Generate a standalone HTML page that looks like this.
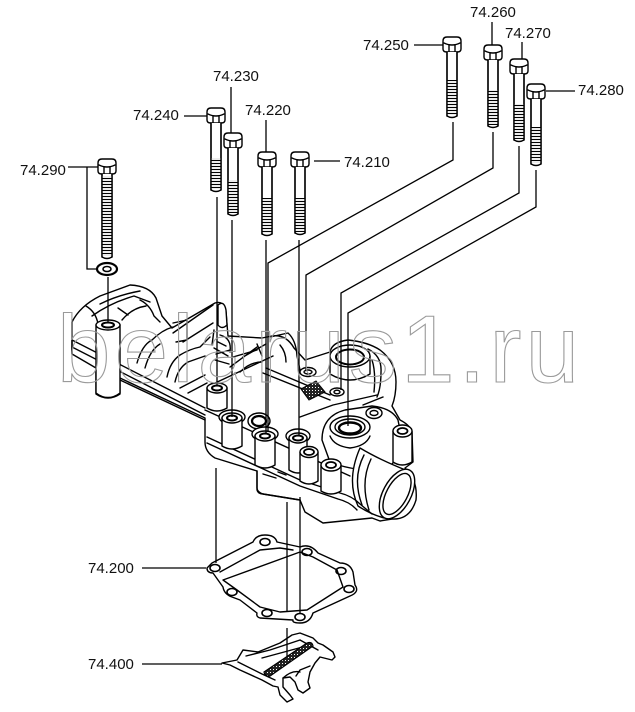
<!DOCTYPE html>
<html><head><meta charset="utf-8"><style>
html,body{margin:0;padding:0;background:#fff;}
svg{display:block;}
.s{fill:none;stroke:#000;stroke-width:1.4;stroke-linejoin:round;stroke-linecap:round;}
.w{fill:#fff;stroke:#000;stroke-width:1.4;stroke-linejoin:round;}
.l{fill:none;stroke:#000;stroke-width:1.3;}
.t{font-family:"Liberation Sans",Arial,sans-serif;font-size:15px;fill:#111;}
</style></head><body>
<svg width="635" height="712" viewBox="0 0 635 712" xmlns="http://www.w3.org/2000/svg">
<defs>
<pattern id="thr" width="10" height="3" patternUnits="userSpaceOnUse">
<rect width="10" height="3" fill="#fff"/><line x1="0" y1="1.5" x2="10" y2="1.5" stroke="#000" stroke-width="1.15"/>
</pattern>
<pattern id="hat" width="3" height="3" patternUnits="userSpaceOnUse">
<rect width="3" height="3" fill="#222"/><rect x="0" y="0" width="1" height="1" fill="#fff"/>
</pattern>
</defs>

<!-- ===== MAIN HOUSING ===== -->
<path class="w" d="M72,322 Q80,306 100,296 L130,285 Q150,286 156,298 L162,316 L172,328 L215,303 Q224,300 226,312 L228,336 L262,338 L272,336 Q286,334 294,348 L305,360 L330,352 Q332,342 348,340 Q368,342 380,350 Q396,362 396,382 Q396,396 392,406 L400,420 Q410,425 412,432 L413,462 L405,468 Q418,480 416,500 Q410,520 392,519 L380,521 L372,518 L323,523 L305,512 L300,500 L263,494 Q257,492 257,488 L257,471 L215,458 Q205,452 205,442 L205,418 L120,378 L120,394 Q108,402 96,394 L96,368 L72,354 Z"/>

<path class="s" d="M72,322 L72,354 M86,306 Q96,312 98,324 M92,316 Q110,303 134,296 L150,302 M100,304 Q118,295 140,291"/>
<path class="s" d="M140,300 Q150,305 154,316 L160,322 M118,308 L128,315 M122,320 Q132,308 146,306"/>
<path class="s" d="M72,340 L205,408 M72,347 L205,415 M120,380 L205,420"/>
<path class="w" d="M96,325 V393 Q108,402 120,393 V325 Z"/>
<ellipse class="w" cx="108" cy="325" rx="12" ry="5"/>
<ellipse class="s" cx="108" cy="325" rx="6" ry="2.5" style="stroke-width:2"/>

<path class="s" d="M173,333 L213,305 M183,342 L213,323 M173,323 L187,320 L187,340 L176,342"/>
<path class="s" d="M137,363 Q142,345 152,340 Q162,330 173,327 M145,368 Q150,350 160,344"/>
<path class="s" d="M167,377 Q170,362 180,355 Q190,349 200,347 L210,337 M175,382 Q178,368 188,362 L205,356"/>
<path class="w" d="M218,305 Q224,300 226,310 L227,325 Q222,330 218,325 Z"/>
<path class="s" d="M214,330 L212,345 M220,335 Q232,338 230,352 M214,348 L228,356 M216,354 L230,350 M215,360 L229,364 M218,342 L226,346"/>
<path class="s" d="M230,367 L257,347 M243,357 L266,344 M257,344 L262,356 M270,337 L288,333 Q296,340 297,356 L300,370"/>
<path class="s" d="M233,357 L257,350 M280,345 Q286,352 286,362 M240,372 Q250,362 262,362"/>
<path class="s" d="M180,388 L205,375 M188,393 L207,383"/>
<path class="s" d="M213,384 L273,356 M263,373 L330,400 M266,368 L330,395"/>
<path class="s" d="M300,417 L333,405 L377,395 M363,405 L383,397"/>
<path d="M301,389 L316,381 L325,392 L309,400 Z" fill="url(#hat)" stroke="#000" stroke-width="1"/>
<path class="w" d="M207,388 V408 Q217,414 227,408 V388 Z"/>
<ellipse class="w" cx="217" cy="388" rx="10" ry="5"/>
<ellipse class="s" cx="217" cy="388" rx="5" ry="2.5" style="stroke-width:2"/>
<ellipse class="w" cx="308" cy="372" rx="8" ry="4.5"/>
<ellipse class="s" cx="308" cy="372" rx="4" ry="2"/>
<path class="w" d="M330,356 V374 Q350,386 370,374 V356 Z"/>
<ellipse class="w" cx="350" cy="356" rx="20" ry="11"/>
<ellipse class="s" cx="350" cy="357" rx="14" ry="7.5" style="stroke-width:2"/>
<path class="s" d="M368,349 Q382,356 381,372 Q381,388 377,397 M372,360 Q376,372 374,392"/>
<ellipse class="w" cx="337" cy="392" rx="7" ry="4"/>
<ellipse class="s" cx="337" cy="392" rx="3" ry="1.8"/>

<path class="s" d="M205,410 L350,476"/>
<path class="w" d="M322,440 Q322,416 345,410 L372,406 Q392,408 398,420 L402,440 Q400,456 392,464 L372,470 Q350,470 330,462 Z"/>
<ellipse class="w" cx="374" cy="413" rx="8" ry="5.5"/>
<ellipse class="s" cx="374" cy="413" rx="4" ry="2.5"/>
<ellipse class="w" cx="350" cy="427" rx="20" ry="11"/>
<ellipse class="s" cx="350" cy="427" rx="15" ry="8"/>
<ellipse class="s" cx="350" cy="428" rx="11" ry="5.5" style="stroke-width:2.4"/>
<path class="s" d="M330,436 Q334,446 350,448 Q366,446 370,436"/>

<path class="w" d="M393,431 V462 Q402,468 412,462 V431 Z"/>
<ellipse class="w" cx="402.5" cy="431" rx="9.5" ry="6"/>
<ellipse class="s" cx="402.5" cy="431" rx="5" ry="3" style="stroke-width:1.8"/>

<path class="w" d="M360,448 Q380,460 408,471 L384,518 Q370,514 358,506 Q346,480 360,448 Z"/>
<path class="s" d="M364,455 Q352,478 362,505 M371,459 Q360,482 369,510"/>
<ellipse class="w" cx="397" cy="494" rx="14" ry="27" transform="rotate(28 397 494)"/>
<ellipse class="s" cx="397" cy="494" rx="10.5" ry="22.5" transform="rotate(28 397 494)"/>

<path class="s" d="M207,437 L300,480 L340,493 Q352,496 360,504 L372,514 M207,443 L300,486 L338,499 Q350,502 357,510"/>
<path class="s" d="M257,471 V490 Q258,494 263,494 L300,500 M263,474 L276,478 M278,472 L286,475"/>

<ellipse class="w" cx="232" cy="417" rx="13" ry="7"/>
<path class="w" d="M222,418 V446 Q232,452 242,446 V418 Z"/>
<ellipse class="w" cx="232" cy="418" rx="10" ry="5"/>
<ellipse class="s" cx="232" cy="418" rx="5" ry="2.5" style="stroke-width:2"/>

<ellipse class="w" cx="259" cy="421" rx="11" ry="8"/>
<ellipse class="s" cx="259" cy="421" rx="7" ry="5" style="stroke-width:2.2"/>

<ellipse class="w" cx="265" cy="434" rx="13" ry="7"/>
<path class="w" d="M255,436 V465 Q265,471 275,465 V436 Z"/>
<ellipse class="w" cx="265" cy="436" rx="10" ry="5"/>
<ellipse class="s" cx="265" cy="436" rx="5" ry="2.5" style="stroke-width:2"/>

<ellipse class="w" cx="298" cy="436" rx="12" ry="7"/>
<path class="w" d="M289,438 V470 Q298,476 307,470 V438 Z"/>
<ellipse class="w" cx="298" cy="438" rx="9" ry="5"/>
<ellipse class="s" cx="298" cy="438" rx="5" ry="2.5" style="stroke-width:2"/>

<path class="w" d="M300,452 V481 Q309,487 318,481 V452 Z"/>
<ellipse class="w" cx="309" cy="452" rx="9" ry="5.5"/>
<ellipse class="s" cx="309" cy="452" rx="5" ry="3" style="stroke-width:1.8"/>

<path class="w" d="M321,465 V491 Q331,497 341,491 V465 Z"/>
<ellipse class="w" cx="331" cy="465" rx="10" ry="6"/>
<ellipse class="s" cx="331" cy="465" rx="5" ry="3" style="stroke-width:1.8"/>

<!-- ===== GASKET 74.200 ===== -->
<path class="w" d="M207,568 L212,563 L253,542 Q256,535 265,535 Q275,535 277,542 L300,547 Q310,543 318,553 L340,563 Q350,563 353,572 L355,585 Q360,592 350,596 L313,613 Q310,623 300,623 Q292,623 293,620 L260,618 Q256,617 257,613 L240,600 L232,597 Q224,594 223,587 L213,573 Q207,573 207,568 Z"/>
<path class="s" d="M220,572 L260,550 L280,548 L293,550 M300,552 L313,557 L337,570 L343,587 L307,610 L280,612 L260,607 L237,590 L223,580 Z"/>
<g class="s" style="stroke-width:1.6">
<ellipse cx="215" cy="568" rx="5" ry="3.5"/>
<ellipse cx="265" cy="542" rx="5" ry="3.5"/>
<ellipse cx="307" cy="552" rx="5" ry="3.5"/>
<ellipse cx="341" cy="571" rx="5" ry="3.5"/>
<ellipse cx="349" cy="589" rx="5" ry="3.5"/>
<ellipse cx="300" cy="617" rx="5" ry="3.5"/>
<ellipse cx="267" cy="613" rx="5" ry="3.5"/>
<ellipse cx="232" cy="592" rx="5" ry="3.5"/>
</g>

<!-- ===== BRACKET 74.400 ===== -->
<path class="w" d="M222,663 L237,660 L243,650 L258,652 L280,643 L292,635 L300,633 L313,638 L318,643 L323,645 L333,652 L335,657 L332,660 L320,657 L315,663 L310,672 L308,682 L310,688 L303,693 L298,690 L295,682 L290,677 L283,678 L283,687 L290,695 L293,699 L287,702 L280,695 L278,687 L273,686 L262,680 L240,670 L230,665 Z"/>
<path class="s" d="M238,662 L262,674 L275,680 M246,656 L270,650 L300,640 M262,658 L310,645 M300,640 L318,650"/>
<path d="M264,672 L307,643 Q312,641 313,646 L270,676 Q265,677 264,672 Z" fill="url(#hat)" stroke="#000" stroke-width="1.2"/>
<path class="s" d="M296,676 L300,670 L310,666 M283,678 Q292,670 300,672"/>

<!-- ===== BOLTS ===== -->
<g transform="translate(107,159)">
<path class="w" d="M-9,4 Q-9,0 -5,0 L5,0 Q9,0 9,4 L9,12 Q9,15 5,15 L-5,15 Q-9,15 -9,12 Z"/>
<path class="s" d="M-8,6 Q0,10 8,6 M-3,8 V15 M3,8 V15"/>
<path class="w" d="M-5,15 V98 Q0,101 5,98 V15"/>
<rect x="-5" y="17" width="10" height="80" fill="url(#thr)"/>
<path class="s" d="M-5,15 V98 M5,15 V98"/>
</g>
<g transform="translate(216,108)">
<path class="w" d="M-9,4 Q-9,0 -5,0 L5,0 Q9,0 9,4 L9,12 Q9,15 5,15 L-5,15 Q-9,15 -9,12 Z"/>
<path class="s" d="M-8,6 Q0,10 8,6 M-3,8 V15 M3,8 V15"/>
<path class="w" d="M-5,15 V82 Q0,85 5,82 V15"/>
<rect x="-5" y="50" width="10" height="31" fill="url(#thr)"/>
<path class="s" d="M-5,15 V82 M5,15 V82"/>
</g>
<g transform="translate(233,133)">
<path class="w" d="M-9,4 Q-9,0 -5,0 L5,0 Q9,0 9,4 L9,12 Q9,15 5,15 L-5,15 Q-9,15 -9,12 Z"/>
<path class="s" d="M-8,6 Q0,10 8,6 M-3,8 V15 M3,8 V15"/>
<path class="w" d="M-5,15 V81 Q0,84 5,81 V15"/>
<rect x="-5" y="47" width="10" height="33" fill="url(#thr)"/>
<path class="s" d="M-5,15 V81 M5,15 V81"/>
</g>
<g transform="translate(267,152)">
<path class="w" d="M-9,4 Q-9,0 -5,0 L5,0 Q9,0 9,4 L9,12 Q9,15 5,15 L-5,15 Q-9,15 -9,12 Z"/>
<path class="s" d="M-8,6 Q0,10 8,6 M-3,8 V15 M3,8 V15"/>
<path class="w" d="M-5,15 V82 Q0,85 5,82 V15"/>
<rect x="-5" y="46" width="10" height="35" fill="url(#thr)"/>
<path class="s" d="M-5,15 V82 M5,15 V82"/>
</g>
<g transform="translate(300,152)">
<path class="w" d="M-9,4 Q-9,0 -5,0 L5,0 Q9,0 9,4 L9,12 Q9,15 5,15 L-5,15 Q-9,15 -9,12 Z"/>
<path class="s" d="M-8,6 Q0,10 8,6 M-3,8 V15 M3,8 V15"/>
<path class="w" d="M-5,15 V81 Q0,84 5,81 V15"/>
<rect x="-5" y="46" width="10" height="34" fill="url(#thr)"/>
<path class="s" d="M-5,15 V81 M5,15 V81"/>
</g>
<g transform="translate(452,37)">
<path class="w" d="M-9,4 Q-9,0 -5,0 L5,0 Q9,0 9,4 L9,12 Q9,15 5,15 L-5,15 Q-9,15 -9,12 Z"/>
<path class="s" d="M-8,6 Q0,10 8,6 M-3,8 V15 M3,8 V15"/>
<path class="w" d="M-5,15 V79 Q0,82 5,79 V15"/>
<rect x="-5" y="43" width="10" height="35" fill="url(#thr)"/>
<path class="s" d="M-5,15 V79 M5,15 V79"/>
</g>
<g transform="translate(493,45)">
<path class="w" d="M-9,4 Q-9,0 -5,0 L5,0 Q9,0 9,4 L9,12 Q9,15 5,15 L-5,15 Q-9,15 -9,12 Z"/>
<path class="s" d="M-8,6 Q0,10 8,6 M-3,8 V15 M3,8 V15"/>
<path class="w" d="M-5,15 V81 Q0,84 5,81 V15"/>
<rect x="-5" y="45" width="10" height="35" fill="url(#thr)"/>
<path class="s" d="M-5,15 V81 M5,15 V81"/>
</g>
<g transform="translate(519,59)">
<path class="w" d="M-9,4 Q-9,0 -5,0 L5,0 Q9,0 9,4 L9,12 Q9,15 5,15 L-5,15 Q-9,15 -9,12 Z"/>
<path class="s" d="M-8,6 Q0,10 8,6 M-3,8 V15 M3,8 V15"/>
<path class="w" d="M-5,15 V81 Q0,84 5,81 V15"/>
<rect x="-5" y="45" width="10" height="35" fill="url(#thr)"/>
<path class="s" d="M-5,15 V81 M5,15 V81"/>
</g>
<g transform="translate(536,84)">
<path class="w" d="M-9,4 Q-9,0 -5,0 L5,0 Q9,0 9,4 L9,12 Q9,15 5,15 L-5,15 Q-9,15 -9,12 Z"/>
<path class="s" d="M-8,6 Q0,10 8,6 M-3,8 V15 M3,8 V15"/>
<path class="w" d="M-5,15 V80 Q0,83 5,80 V15"/>
<rect x="-5" y="43" width="10" height="36" fill="url(#thr)"/>
<path class="s" d="M-5,15 V80 M5,15 V80"/>
</g>

<ellipse cx="107" cy="269" rx="10" ry="6" fill="#fff" stroke="#000" stroke-width="2.2"/>
<ellipse cx="107" cy="269" rx="4" ry="2.5" fill="none" stroke="#000" stroke-width="1.6"/>

<!-- ===== LEADER LINES ===== -->
<path class="l" d="M68,167 H98 M87,167 V269 H97"/>
<path class="l" d="M184,116 H207"/>
<path class="l" d="M231,87 V133"/>
<path class="l" d="M266,120 V152"/>
<path class="l" d="M314,161 H340"/>
<path class="l" d="M414,45 H443"/>
<path class="l" d="M492,22 V45"/>
<path class="l" d="M522,42 V59"/>
<path class="l" d="M546,91 H575"/>
<path class="l" d="M142,568 H206"/>
<path class="l" d="M142,664 H222"/>

<path class="l" d="M108,277 V323"/>
<path class="l" d="M217,197 V386"/>
<path class="l" d="M232,220 V417"/>
<path class="l" d="M266,240 V434"/>
<path class="l" d="M453,122 V160 L268,263 V432"/>
<path class="l" d="M299,240 V436"/>
<path class="l" d="M493,132 V168 L306,275 V371"/>
<path class="l" d="M519,146 V193 L341,293 V390"/>
<path class="l" d="M536,170 V207 L348,313 V426"/>
<path class="l" d="M216,468 V563"/>
<path class="l" d="M287,502 V612"/>
<path class="l" d="M300,497 V614"/>
<path class="l" d="M287,628 V657"/>

<!-- ===== LABELS ===== -->
<text class="t" x="20" y="175">74.290</text>
<text class="t" x="133" y="120">74.240</text>
<text class="t" x="213" y="81">74.230</text>
<text class="t" x="245" y="115">74.220</text>
<text class="t" x="344" y="167">74.210</text>
<text class="t" x="363" y="50">74.250</text>
<text class="t" x="470" y="17">74.260</text>
<text class="t" x="505" y="38">74.270</text>
<text class="t" x="578" y="95">74.280</text>
<text class="t" x="88" y="573">74.200</text>
<text class="t" x="88" y="669">74.400</text>

<text x="57" y="382" font-family="Liberation Sans, Arial, sans-serif" font-size="96" fill="none" stroke="#9a9a9a" stroke-width="1.1" textLength="522" lengthAdjust="spacing">belarus1.ru</text>
</svg>
</body></html>
